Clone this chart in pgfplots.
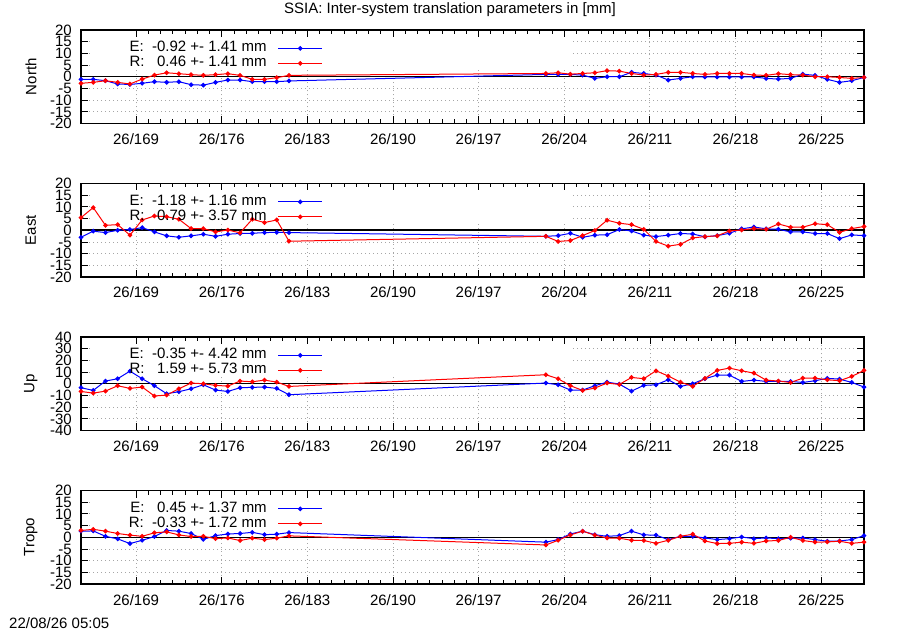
\documentclass[border=0pt]{standalone}
\usepackage{fontspec}
\setmainfont{Liberation Sans}
\usepackage{pgfplots}
\usepackage{pgfplotstable}
\pgfplotsset{compat=1.18}

\definecolor{eblue}{RGB}{0,0,255}
\definecolor{rred}{RGB}{255,0,0}
\newcommand{\gfont}{\fontsize{15bp}{17bp}\selectfont}

\pgfplotsset{
  panel/.style={
    width=783bp, height=93.5bp, scale only axis,
    anchor=south west,
    xmin=164.5, xmax=228.5,
    xtick={169,176,183,190,197,204,211,218,225},
    xticklabels={26/169,26/176,26/183,26/190,26/197,26/204,26/211,26/218,26/225},
    minor x tick num=6,
    tick align=inside, major tick length=7bp, minor tick length=4bp,
    every tick/.style={black, line width=0.8bp},
    grid=major,
    major grid style={gray!70, dash pattern=on 1bp off 3bp, line width=0.8bp},
    axis line style={line width=1.5bp},
    tick label style={font=\gfont},
    label style={font=\gfont},
    xticklabel style={anchor=base, yshift=-21bp},
    yticklabel style={anchor=east, inner sep=0pt, xshift=-9bp, text height=10.5bp, text depth=0pt},
    ylabel style={at={(axis description cs:-0.064,0.5)}, anchor=center},
    extra y ticks={0}, extra y tick labels={},
    extra y tick style={grid=major, major grid style={black, solid, line width=1.5bp}, major tick length=0pt},
    legend cell align=right, legend plot pos=right,
    legend style={at={(0.309,0.875)}, anchor=north east, draw=none, fill=none,
      inner sep=0pt, column sep=11bp, row sep=2bp, font=\gfont,
      nodes={inner sep=0pt, text height=10bp, text depth=3bp}},
    legend image code/.code={\draw[mark repeat=2, mark phase=2]
      plot coordinates {(0bp,0bp) (22bp,0bp) (44bp,0bp)};},
  },
  ese/.style={eblue, line width=1bp, mark=*, mark size=1.8bp, mark options={solid}},
  rse/.style={rred, line width=1bp, mark=*, mark size=1.8bp, mark options={solid}},
}

% day  E  R
\pgfplotstableread{
x E R
164.5 -1.1 -2.8
165.5 -1.1 -2.4
166.5 -1.7 -1.7
167.5 -3.1 -2.4
168.5 -3.3 -3.1
169.5 -2.8 -1.0
170.5 -2.1 0.7
171.5 -2.4 1.7
172.5 -2.1 1.3
173.5 -3.4 0.9
174.5 -3.6 0.6
175.5 -2.4 0.9
176.5 -1.4 1.3
177.5 -1.4 0.6
178.5 -2.1 -1.1
179.5 -2.1 -1.1
180.5 -2.1 -0.4
181.5 -1.8 0.6
202.5 1.0 1.4
203.5 1.0 1.7
204.5 1.0 1.1
205.5 0.7 1.4
206.5 -0.7 1.7
207.5 0.0 2.6
208.5 0.0 2.4
209.5 1.9 1.4
210.5 1.4 0.7
211.5 0.7 1.0
212.5 -1.4 1.9
213.5 -0.7 1.9
214.5 0.0 1.4
215.5 -0.1 1.0
216.5 -0.1 1.4
217.5 -0.1 1.4
218.5 -0.1 1.4
219.5 -0.1 0.7
220.5 -0.7 0.6
221.5 -1.0 1.3
222.5 -0.7 0.9
223.5 1.1 0.7
224.5 0.6 0.0
225.5 -1.1 0.0
226.5 -2.4 -0.3
227.5 -1.7 -0.7
228.5 -0.3 -0.3
}\north

\pgfplotstableread{
x E R
164.5 -3.0 5.4
165.5 -0.4 9.7
166.5 -1.0 2.1
167.5 0.0 2.4
168.5 0.3 -2.1
169.5 1.1 4.4
170.5 -0.7 6.1
171.5 -2.4 5.8
172.5 -3.0 4.7
173.5 -2.4 0.7
174.5 -1.7 0.7
175.5 -2.6 -0.7
176.5 -1.7 0.1
177.5 -1.4 -1.1
178.5 -1.3 4.7
179.5 -1.0 3.3
180.5 -0.9 4.4
181.5 -1.0 -4.7
202.5 -2.6 -2.6
203.5 -2.3 -4.8
204.5 -1.3 -4.4
205.5 -3.0 -2.3
206.5 -2.1 -0.1
207.5 -1.9 4.3
208.5 0.3 3.0
209.5 -0.3 2.4
210.5 -2.1 0.4
211.5 -2.7 -4.8
212.5 -2.1 -6.8
213.5 -1.4 -6.0
214.5 -1.6 -3.3
215.5 -2.8 -2.7
216.5 -2.3 -2.4
217.5 -1.3 -0.3
218.5 0.6 0.1
219.5 1.4 0.7
220.5 0.6 0.4
221.5 0.4 2.7
222.5 -0.7 1.3
223.5 -0.7 1.3
224.5 -1.4 2.8
225.5 -1.4 2.4
226.5 -3.6 -0.9
227.5 -2.0 0.7
228.5 -2.3 1.6
}\east

\pgfplotstableread{
x E R
164.5 -3.4 -6.6
165.5 -5.7 -8.0
166.5 2.3 -6.3
167.5 4.3 -1.7
168.5 10.8 -4.0
169.5 4.3 -2.8
170.5 -1.7 -10.5
171.5 -8.5 -9.7
172.5 -6.8 -4.3
173.5 -4.3 0.6
174.5 -0.9 0.0
175.5 -5.4 -1.4
176.5 -6.6 -2.0
177.5 -3.4 2.3
178.5 -3.1 1.7
179.5 -2.8 3.1
180.5 -4.0 1.4
181.5 -9.4 -2.3
202.5 0.6 7.7
203.5 -0.9 4.3
204.5 -5.4 -1.7
205.5 -5.4 -5.7
206.5 -1.7 -3.7
207.5 1.4 0.6
208.5 -0.3 -0.6
209.5 -6.3 5.4
210.5 -1.4 4.3
211.5 -0.9 11.1
212.5 3.4 6.6
213.5 -2.3 1.4
214.5 0.0 -2.3
215.5 4.3 4.6
216.5 7.4 11.4
217.5 7.4 13.4
218.5 2.0 11.1
219.5 3.1 9.1
220.5 2.0 3.1
221.5 2.0 2.3
222.5 2.0 1.1
223.5 1.1 4.8
224.5 2.6 4.8
225.5 4.6 3.4
226.5 4.0 2.6
227.5 1.1 6.3
228.5 -2.8 11.4
}\up

\pgfplotstableread{
x E R
164.5 2.6 2.9
165.5 2.7 3.4
166.5 0.4 2.6
167.5 -0.7 1.6
168.5 -2.7 0.9
169.5 -1.3 0.4
170.5 0.3 1.9
171.5 2.9 2.3
172.5 2.6 1.0
173.5 1.6 0.3
174.5 -0.9 0.4
175.5 0.7 -0.6
176.5 1.4 -0.3
177.5 1.6 -1.4
178.5 2.1 -0.4
179.5 1.1 -1.0
180.5 1.3 -0.4
181.5 2.0 0.6
202.5 -2.1 -3.3
203.5 -1.0 -1.3
204.5 1.4 1.0
205.5 2.6 2.6
206.5 1.1 0.9
207.5 0.4 -0.3
208.5 0.7 -0.4
209.5 2.6 -1.3
210.5 1.0 -1.4
211.5 0.9 -2.6
212.5 -1.0 -1.3
213.5 0.4 0.4
214.5 0.4 1.3
215.5 -0.3 -1.6
216.5 -1.0 -2.7
217.5 -0.6 -2.6
218.5 0.1 -2.1
219.5 -0.6 -2.6
220.5 -0.3 -1.6
221.5 -0.6 -1.4
222.5 -0.4 0.0
223.5 -0.3 -1.4
224.5 -1.0 -2.1
225.5 -1.7 -2.0
226.5 -1.6 -1.7
227.5 -1.0 -2.6
228.5 0.7 -2.1
}\tropo

\begin{document}
\begin{tikzpicture}[font=\gfont]
\path[use as bounding box] (0,0) rectangle (900bp,630bp);

% North
\begin{axis}[panel, at={(81bp,506.5bp)},
  ymin=-20, ymax=20, ytick={-20,-15,...,20},
  yticklabels={-20,-15,-10,-5,0,5,10,15,20},
  ylabel={North},
  title={SSIA: Inter-system translation parameters in [mm]},
  title style={at={(axis description cs:0.4713,1)}, anchor=base, yshift=10.7bp, inner sep=0pt, font=\gfont}]
\fill[white] (axis cs:165.2,16.6) rectangle (axis cs:204.7,3.3);
\addplot[ese] table[x=x, y=E] {\north};
\addlegendentry{E:\ \ -0.92 +- 1.41 mm}
\addplot[rse] table[x=x, y=R] {\north};
\addlegendentry{R:\ \ \ 0.46 +- 1.41 mm}
\end{axis}

% East
\begin{axis}[panel, at={(81bp,353bp)},
  ymin=-20, ymax=20, ytick={-20,-15,...,20},
  yticklabels={-20,-15,-10,-5,0,5,10,15,20},
  ylabel={East}]
\fill[white] (axis cs:165.2,16.6) rectangle (axis cs:204.7,3.3);
\addplot[ese] table[x=x, y=E] {\east};
\addlegendentry{E:\ \ -1.18 +- 1.16 mm}
\addplot[rse] table[x=x, y=R] {\east};
\addlegendentry{R:\ \ \ 0.79 +- 3.57 mm}
\end{axis}

% Up
\begin{axis}[panel, at={(81bp,199.5bp)},
  ymin=-40, ymax=40, ytick={-40,-30,...,40},
  yticklabels={-40,-30,-20,-10,0,10,20,30,40},
  ylabel={Up}]
\fill[white] (axis cs:165.2,33.2) rectangle (axis cs:204.7,6.6);
\addplot[ese] table[x=x, y=E] {\up};
\addlegendentry{E:\ \ -0.35 +- 4.42 mm}
\addplot[rse] table[x=x, y=R] {\up};
\addlegendentry{R:\ \ \ 1.59 +- 5.73 mm}
\end{axis}

% Tropo
\begin{axis}[panel, at={(81bp,46bp)},
  ymin=-20, ymax=20, ytick={-20,-15,...,20},
  yticklabels={-20,-15,-10,-5,0,5,10,15,20},
  ylabel={Tropo}]
\fill[white] (axis cs:165.2,16.6) rectangle (axis cs:204.7,3.3);
\addplot[ese] table[x=x, y=E] {\tropo};
\addlegendentry{E:\ \ \ 0.45 +- 1.37 mm}
\addplot[rse] table[x=x, y=R] {\tropo};
\addlegendentry{R:\ \ -0.33 +- 1.72 mm}
\end{axis}

\node[anchor=base west, inner sep=0pt] at (9bp,1.5bp) {22/08/26 05:05};
\end{tikzpicture}
\end{document}
